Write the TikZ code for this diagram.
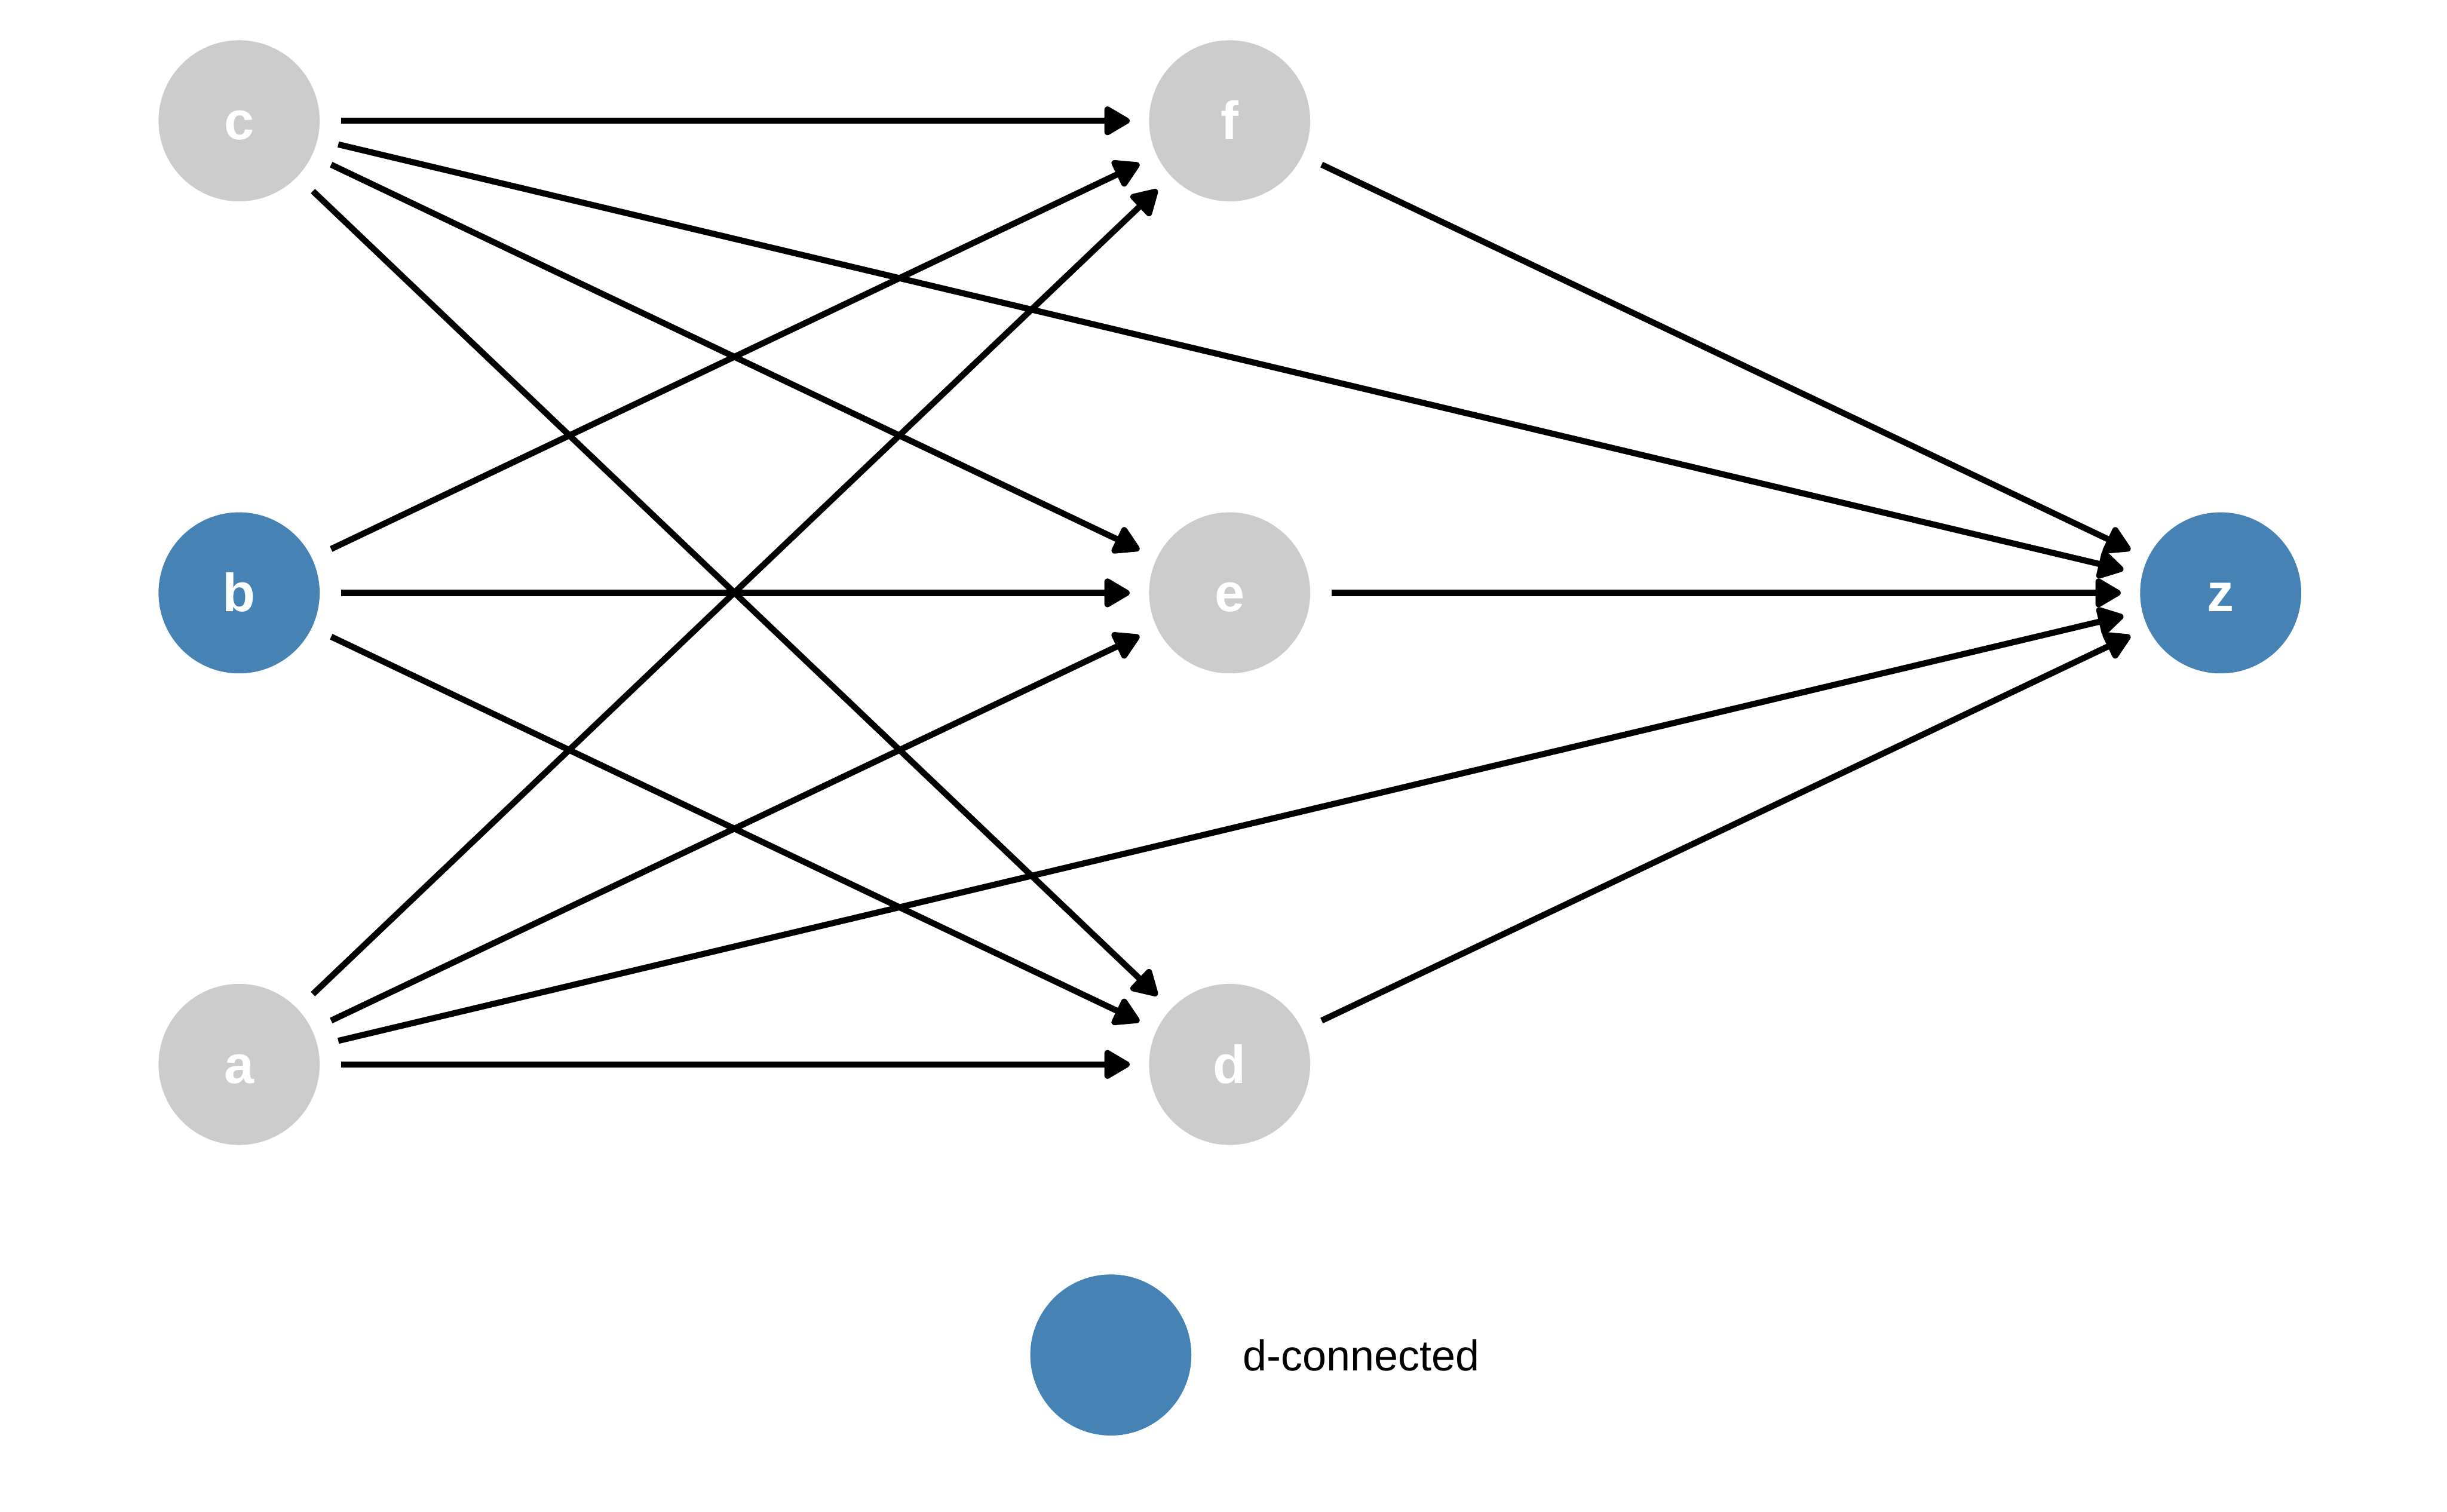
\documentclass[tikz,border=0pt]{standalone}
\usepackage{fontspec}
\setmainfont{Liberation Sans}
\usetikzlibrary{arrows.meta}
\definecolor{nodegrey}{HTML}{CCCCCC}
\definecolor{dblue}{HTML}{4682B4}
\begin{document}
\begin{tikzpicture}[
  dagnode/.style={circle, minimum size=3.16cm, inner sep=0pt, outer sep=0pt,
    text height=0.74cm, text depth=0cm,
    font=\fontsize{30}{36}\selectfont\bfseries, text=white},
  greynode/.style={dagnode, fill=nodegrey},
  bluenode/.style={dagnode, fill=dblue},
  edge/.style={line width=0.12cm, -{Triangle[length=0.56cm,width=0.62cm,round]},
    shorten <=0.42cm, shorten >=0.38cm}
]
\useasboundingbox (0,0) rectangle (48,29.66);
\node[greynode] (c) at (4.69,27.29) {c};
\node[bluenode] (b) at (4.69,18.03) {b};
\node[greynode] (a) at (4.69,8.78) {a};
\node[greynode] (f) at (24.12,27.29) {f};
\node[greynode] (e) at (24.12,18.03) {e};
\node[greynode] (d) at (24.12,8.78) {d};
\node[bluenode] (z) at (43.56,18.03) {z};

\draw[edge] (c) -- (f);
\draw[edge] (c) -- (e);
\draw[edge] (c) -- (d);
\draw[edge] (c) -- (z);
\draw[edge] (b) -- (f);
\draw[edge] (b) -- (e);
\draw[edge] (b) -- (d);
\draw[edge] (a) -- (f);
\draw[edge] (a) -- (e);
\draw[edge] (a) -- (d);
\draw[edge] (a) -- (z);
\draw[edge] (f) -- (z);
\draw[edge] (e) -- (z);
\draw[edge] (d) -- (z);

\node[bluenode] (leg) at (21.79,3.08) {};
\node[anchor=base west, inner sep=0pt, font=\fontsize{24}{28}\selectfont] (legtext) at (24.37,2.77) {d-connected};
\end{tikzpicture}
\end{document}
